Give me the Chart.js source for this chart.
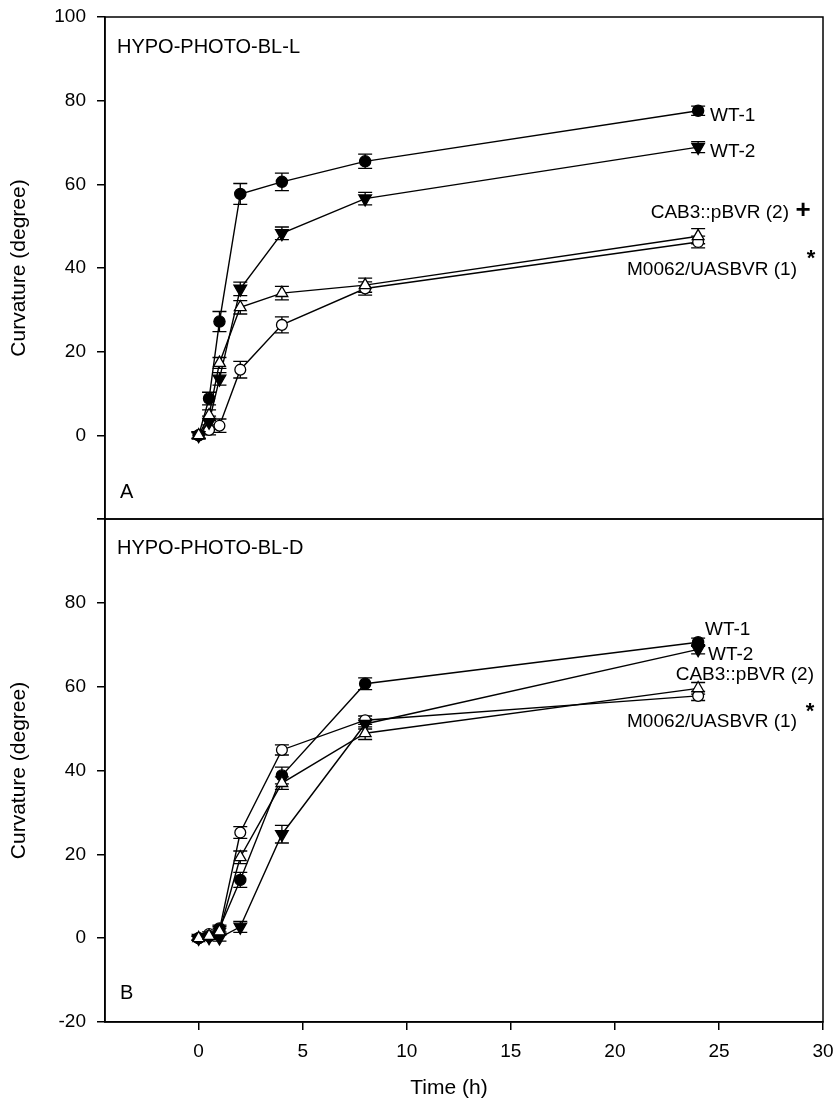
<!DOCTYPE html>
<html>
<head>
<meta charset="utf-8">
<title>Curvature over time</title>
<script src="https://cdn.jsdelivr.net/npm/chart.js@4.4.1/dist/chart.umd.min.js"></script>
<style>
  body { margin: 0; background: #fff; }
  #wrap { position: relative; width: 836px; height: 1109px; overflow: hidden; }
  canvas { position: absolute; left: 0; }
  #chartA { top: -7px; }
  #chartB { top: 495px; }
</style>
</head>
<body>
<div id="wrap">
  <canvas id="chartA" width="836" height="550"></canvas>
  <canvas id="chartB" width="845" height="614"></canvas>
</div>
<script>
// sampling times (h)
const times = [0, 0.5, 1, 2, 4, 8, 24];
const xTicks = [0, 5, 10, 15, 20, 25, 30];
const yTicks = [-20, 0, 20, 40, 60, 80, 100];
const seriesNames = ["WT-1", "WT-2", "CAB3::pBVR (2)", "M0062/UASBVR (1)"];

// panel A: HYPO-PHOTO-BL-L, mean curvature and error
const wt1A = [0, 8.8, 27.2, 57.7, 60.6, 65.5, 77.6];
const wt1AErr = [0.8, 1.5, 2.4, 2.5, 2.1, 1.7, 1.1];
const wt2A = [0, 3.2, 13.5, 35.0, 48.3, 56.6, 68.9];
const wt2AErr = [0.8, 1.4, 1.5, 1.6, 1.5, 1.5, 1.3];
const cabA = [0, 4.8, 17.3, 30.6, 34.0, 35.9, 47.6];
const cabAErr = [0.8, 1.3, 1.3, 1.6, 1.6, 1.7, 1.8];
const mA = [0, 1.3, 2.3, 15.7, 26.4, 35.1, 46.2];
const mAErr = [0.6, 1.2, 1.6, 2.0, 1.9, 1.6, 1.4];

// panel B: HYPO-PHOTO-BL-D
const wt1B = [0, 0.5, 2.3, 13.9, 38.8, 60.7, 70.6];
const wt1BErr = [0.5, 0.5, 0.8, 1.8, 2.0, 1.4, 1.0];
const wt2B = [0, 0.2, 0.1, 2.7, 24.8, 51.1, 68.9];
const wt2BErr = [0.5, 0.5, 0.8, 1.3, 2.1, 1.2, 1.1];
const cabB = [0, 0.5, 1.6, 19.3, 37.0, 48.9, 59.6];
const cabBErr = [0.5, 0.5, 0.8, 1.5, 1.5, 1.5, 1.4];
const mB = [0, 1.0, 2.0, 25.2, 44.9, 52.0, 57.8];
const mBErr = [0.5, 0.5, 0.8, 1.4, 1.2, 1.0, 1.1];

const FONT = "'Liberation Sans', Arial, Helvetica, sans-serif";
Chart.defaults.font.family = FONT;
Chart.defaults.color = "#000";

const markers = {
  "WT-1": { style: "circle", rot: 0, fill: "#000", r: 5.6 },
  "WT-2": { style: "triangle", rot: 180, fill: "#000", r: 7.3 },
  "CAB3::pBVR (2)": { style: "triangle", rot: 0, fill: "#fff", r: 6.8 },
  "M0062/UASBVR (1)": { style: "circle", rot: 0, fill: "#fff", r: 5.4 },
};

function makeDataset(name, values, errors) {
  const m = markers[name];
  return {
    label: name,
    data: times.map((t, i) => ({ x: t, y: values[i] })),
    errors: errors,
    borderColor: "#000",
    borderWidth: 1.4,
    tension: 0,
    pointStyle: m.style,
    pointRotation: m.rot,
    pointRadius: m.r,
    pointHoverRadius: m.r,
    pointBackgroundColor: m.fill,
    pointBorderColor: "#000",
    pointBorderWidth: 1.3,
  };
}

// vertical error bars with caps, drawn under the markers
const errorBars = {
  id: "errorBars",
  beforeDatasetsDraw(chart) {
    const { ctx, scales: { x, y } } = chart;
    ctx.save();
    ctx.strokeStyle = "#000";
    ctx.lineWidth = 1.3;
    chart.data.datasets.forEach((ds) => {
      ds.errors.forEach((e, i) => {
        const px = x.getPixelForValue(ds.data[i].x);
        const top = y.getPixelForValue(ds.data[i].y + e);
        const bot = y.getPixelForValue(ds.data[i].y - e);
        ctx.beginPath();
        ctx.moveTo(px, top);
        ctx.lineTo(px, bot);
        ctx.moveTo(px - 7, top);
        ctx.lineTo(px + 7, top);
        ctx.moveTo(px - 7, bot);
        ctx.lineTo(px + 7, bot);
        ctx.stroke();
      });
    });
    ctx.restore();
  },
};

// box around the plot area plus the free text labels
const frameAndText = {
  id: "frameAndText",
  afterDraw(chart, args, opts) {
    const { ctx, chartArea: a } = chart;
    ctx.save();
    ctx.strokeStyle = "#000";
    ctx.lineWidth = 1.5;
    ctx.strokeRect(a.left, a.top, a.right - a.left, a.bottom - a.top);
    ctx.fillStyle = "#000";
    ctx.textBaseline = "middle";
    opts.notes.forEach((n) => {
      ctx.font = n.font;
      ctx.textAlign = n.align;
      ctx.fillText(n.text, n.x, n.y - opts.offsetY);
    });
    ctx.restore();
  },
};

function yAxis(hiddenTick) {
  return {
    min: -20,
    max: 100,
    afterBuildTicks: (s) => { s.ticks = yTicks.map((v) => ({ value: v })); },
    afterFit: (s) => { s.width = 105; },
    ticks: {
      font: { size: 19 },
      color: "#000",
      padding: 11,
      callback: (v) => (v === hiddenTick ? "" : v),
    },
    grid: { drawOnChartArea: false, drawTicks: true, tickLength: 8, color: "#000", lineWidth: 1.5 },
    border: { display: true, color: "#000", width: 1.5 },
    title: {
      display: true,
      text: "Curvature (degree)",
      font: { size: 21 },
      color: "#000",
      padding: { top: 7, bottom: 0 },
    },
  };
}

const big = "19px " + FONT;
const head = "20px " + FONT;

// page positions of the free labels
const notesA = [
  { text: "HYPO-PHOTO-BL-L", x: 117, y: 47, align: "left", font: head },
  { text: "A", x: 120, y: 492, align: "left", font: head },
  { text: seriesNames[0], x: 710, y: 116, align: "left", font: big },
  { text: seriesNames[1], x: 710, y: 152, align: "left", font: big },
  { text: seriesNames[2], x: 789, y: 213, align: "right", font: big },
  { text: "+", x: 803, y: 211, align: "center", font: "bold 26px " + FONT },
  { text: seriesNames[3], x: 797, y: 270, align: "right", font: big },
  { text: "*", x: 811, y: 259, align: "center", font: "bold 22px " + FONT },
];

const notesB = [
  { text: "HYPO-PHOTO-BL-D", x: 117, y: 548, align: "left", font: head },
  { text: "B", x: 120, y: 993, align: "left", font: head },
  { text: seriesNames[0], x: 705, y: 630, align: "left", font: big },
  { text: seriesNames[1], x: 708, y: 655, align: "left", font: big },
  { text: seriesNames[2], x: 814, y: 675, align: "right", font: big },
  { text: seriesNames[3], x: 797, y: 722, align: "right", font: big },
  { text: "*", x: 810, y: 712, align: "center", font: "bold 22px " + FONT },
  { text: "Time (h)", x: 449, y: 1088, align: "center", font: "21px " + FONT },
];

function drawPanel(canvasId, datasets, opts) {
  return new Chart(document.getElementById(canvasId), {
    type: "line",
    data: { datasets: datasets },
    plugins: [errorBars, frameAndText],
    options: {
      responsive: false,
      animation: false,
      events: [],
      devicePixelRatio: 1,
      layout: { autoPadding: false, padding: opts.padding },
      plugins: {
        legend: { display: false },
        tooltip: { enabled: false },
        frameAndText: { notes: opts.notes, offsetY: opts.offsetY },
      },
      scales: {
        x: opts.xAxis,
        y: yAxis(opts.hiddenTick),
      },
    },
  });
}

drawPanel("chartA", [
  makeDataset(seriesNames[2], cabA, cabAErr),
  makeDataset(seriesNames[0], wt1A, wt1AErr),
  makeDataset(seriesNames[1], wt2A, wt2AErr),
  makeDataset(seriesNames[3], mA, mAErr),
], {
  padding: { top: 24, right: 13, bottom: 24, left: 0 },
  notes: notesA,
  offsetY: -7,
  hiddenTick: -20,
  xAxis: { type: "linear", min: -4.5, max: 30, display: false },
});

drawPanel("chartB", [
  makeDataset(seriesNames[2], cabB, cabBErr),
  makeDataset(seriesNames[0], wt1B, wt1BErr),
  makeDataset(seriesNames[1], wt2B, wt2BErr),
  makeDataset(seriesNames[3], mB, mBErr),
], {
  padding: { top: 24, right: 22, bottom: 0, left: 0 },
  notes: notesB,
  offsetY: 495,
  hiddenTick: 100,
  xAxis: {
    type: "linear",
    min: -4.5,
    max: 30,
    afterBuildTicks: (s) => { s.ticks = xTicks.map((v) => ({ value: v })); },
    afterFit: (s) => { s.height = 87; },
    ticks: { font: { size: 19 }, color: "#000", padding: 10 },
    grid: { drawOnChartArea: false, drawTicks: true, tickLength: 8, color: "#000", lineWidth: 1.5 },
    border: { display: true, color: "#000", width: 1.5 },
  },
});
</script>
</body>
</html>
